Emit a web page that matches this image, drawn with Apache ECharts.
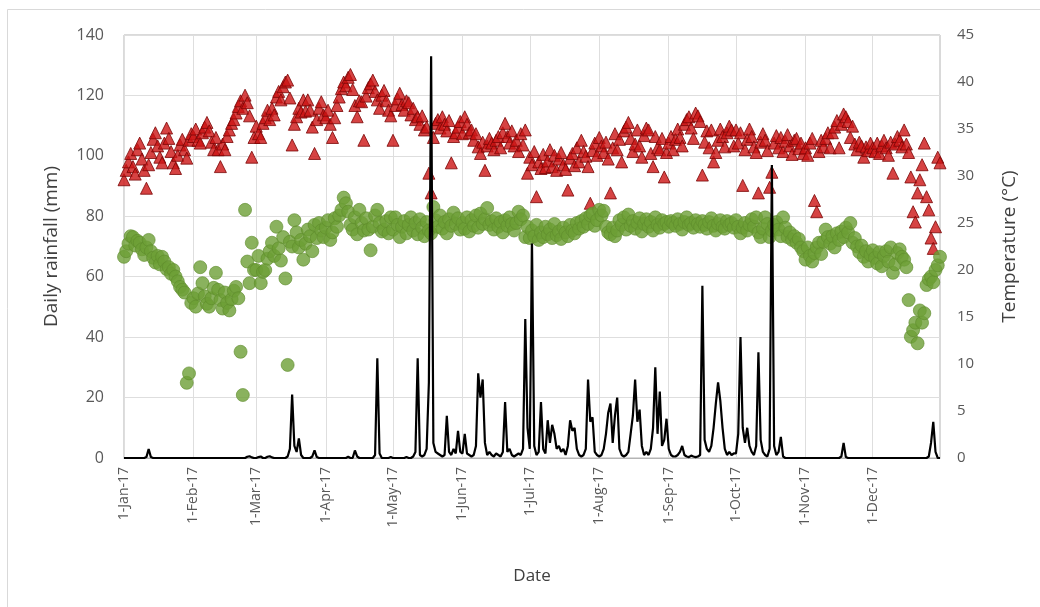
<!DOCTYPE html>
<html>
<head>
<meta charset="utf-8">
<script src="https://cdn.jsdelivr.net/npm/echarts@6/dist/echarts.min.js"></script>
<style>
html,body{margin:0;padding:0;background:#fff;}
#chart{width:1040px;height:607px;}
</style>
</head>
<body>
<div id="chart"></div>
<script>
// ---- Data ----
const monthNames = ['Jan','Feb','Mar','Apr','May','Jun','Jul','Aug','Sep','Oct','Nov','Dec'];
const leftTicks = [0,20,40,60,80,100,120,140];
const rightTicks = [0,5,10,15,20,25,30,35,40,45];

// Daily rainfall (mm), one array per month
const rainJan = [0,0,0,0,0,0,0,0,0,0,0.3,3,0.3,0,0,0,0,0,0,0,0,0,0,0,0,0,0,0,0,0,0];
const rainFeb = [0,0,0,0,0,0,0,0,0,0,0,0,0,0,0,0,0,0,0,0,0,0,0,0,0.4,0.6,0.2,0];
const rainMar = [0,0.3,0.5,0,0,0.4,0.6,0.2,0,0,0,0,0,0,0.5,3,21,4,2,6.5,1,0,0,0,0,0.5,2.5,0.3,0,0,0];
const rainApr = [0,0,0,0,0,0,0,0,0,0,0.4,0,0,2.5,0.5,0,0,0,0,0,0,0,1,33,1.5,0,0,0,0,0.3];
const rainMay = [0,0,0,0,0,0,0.3,0,0,0.5,2,33,1,0.5,1,3,25,133,5,2,1.5,1,0.5,1,14,2,1,3,1.5,9,2];
const rainJun = [1.5,8,1.5,1,0.5,1,4,28,20,26,5,1,2,1,0.5,1.5,1,0.5,2,18.5,2,3,1,0.5,1,1.5,1,3,46,10];
const rainJul = [3,71,4,1,2,18.5,3,1.5,12.5,5,11,8,3,4,2,3,1,4,12.5,9,10,3,1,0.5,1,3,26,12,13.5,2,1];
const rainAug = [0.5,1,3,8,15,18,5,14,20,3,1,0.5,1,2,8,14,26,12,16,4,1,2,1,3,10,30,8,22,4,6,13];
const rainSep = [3,1,0.5,0.5,1,2,4,1,0.5,0.3,0.8,0.5,0.3,0.5,1,57,6,3,2,4,10,18,25,19,10,3,1,2,1,1.5];
const rainOct = [1.5,8,40,10,5,10,4,2,1,4,35,6,2,1,0.5,3,97,4,1,2,7,0.5,0,0,0,0,0,0,0,0,0];
const rainNov = [0,0,0,0,0,0,0,0,0,0,0,0,0,0,0,0,0.5,5,0.3,0,0,0,0,0,0,0,0,0,0,0];
const rainDec = [0,0,0,0,0,0,0,0,0,0,0,0,0,0,0,0,0,0,0,0,0,0,0,0,0,0.5,5,12,2,0,0];

// Daily maximum temperature (°C)
const tmaxJan = [29.6,30.6,31.5,32.4,31.0,30.2,32.8,33.5,31.8,30.6,28.7,31.2,32.5,33.9,34.6,33.2,32.0,31.4,33.5,35.1,34.0,32.6,31.4,30.8,32.2,33.3,33.9,32.8,31.9,33.8,34.5];
const tmaxFeb = [34.2,35.0,33.8,33.5,34.6,35.2,35.7,34.8,33.6,32.8,34.1,32.8,31.0,33.4,32.8,34.2,34.9,35.6,36.0,36.7,37.4,38.0,37.2,38.6,37.8,36.4,32.0,34.1];
const tmaxMar = [35.3,34.5,34.1,35.6,36.2,37.0,36.0,37.2,36.5,38.4,39.0,38.1,39.5,40.0,40.2,38.3,33.3,35.5,36.3,37.2,36.8,38.1,36.9,38.1,37.0,35.2,32.4,36.0,37.2,37.9,36.5];
const tmaxApr = [36.2,37.0,35.5,34.1,36.2,37.5,38.4,39.3,40.0,39.6,40.5,40.8,39.2,37.5,36.3,38.0,37.9,33.8,38.5,39.4,39.8,40.2,39.0,38.1,37.2,38.6,39.1,38.0,37.0,36.4];
const tmaxMay = [33.8,37.5,38.2,38.8,37.6,37.0,38.0,37.8,36.5,37.2,36.0,36.3,35.5,36.4,34.9,35.2,30.3,28.2,34.1,35.6,36.0,35.1,36.3,35.5,34.8,35.9,31.4,34.2,34.6,35.2,35.8];
const tmaxJun = [34.5,36.3,35.5,34.6,34.9,33.8,34.5,33.1,32.4,33.6,30.6,33.2,34.0,33.5,32.8,33.8,34.2,33.0,34.6,35.6,34.2,33.5,34.8,33.2,33.8,32.6,34.5,33.3,34.9,30.3];
const tmaxJul = [32.0,31.2,32.6,27.8,31.5,30.8,32.3,30.9,31.6,32.8,31.0,32.2,30.6,31.8,32.5,31.2,30.7,28.5,31.9,32.4,31.1,33.0,31.5,33.8,32.6,32.1,31.0,27.1,32.7,33.5,32.2];
const tmaxAug = [34.1,33.2,32.5,33.6,31.8,28.2,33.0,34.5,32.8,33.9,31.5,34.8,35.2,35.7,34.0,32.6,33.4,34.9,33.2,32.0,34.3,35.1,34.9,32.4,31.0,34.2,33.0,32.8,34.0,29.9,32.5];
const tmaxSep = [33.5,34.2,32.8,33.9,35.0,34.1,33.2,35.5,36.0,36.3,35.1,34.0,36.7,36.4,35.8,30.1,33.6,34.8,33.0,34.9,31.5,32.5,33.8,35.0,34.2,33.1,34.6,35.3,34.9,33.2];
const tmaxOct = [34.9,33.5,34.6,29.0,32.8,33.9,35.0,34.2,33.1,32.5,28.2,33.6,34.5,33.8,32.7,28.8,30.4,33.5,34.3,33.0,34.1,32.6,33.7,34.4,33.2,32.3,33.8,34.0,32.9,33.5,32.4];
const tmaxNov = [33.0,32.2,33.5,34.0,27.4,26.2,32.6,33.8,33.1,34.0,34.6,33.0,34.6,35.2,35.9,33.0,35.5,36.6,36.3,35.8,34.1,35.3,33.4,32.8,33.6,33.2,32.0,33.1,32.7,33.5];
const tmaxDec = [33.0,32.6,33.5,32.4,33.2,33.8,33.0,32.2,33.6,30.3,33.4,34.2,33.8,33.1,34.9,33.4,32.5,29.9,26.2,25.1,28.2,29.6,31.2,33.5,27.8,26.4,23.4,22.3,24.6,32.0,31.4];

// Daily minimum temperature (°C)
const tminJan = [21.4,22.0,22.8,23.6,23.5,22.6,23.1,22.9,22.2,21.6,22.4,23.2,22.0,21.3,20.8,21.5,20.6,21.4,20.9,20.1,20.3,19.6,20.0,19.3,18.8,18.2,17.9,17.6,8.0,9.0,16.5];
const tminFeb = [17.0,16.1,17.5,20.3,18.6,17.2,16.4,16.1,17.0,18.1,19.7,17.9,16.8,15.9,17.6,16.5,15.7,16.9,17.8,18.2,17.0,11.3,6.7,26.4,20.9,18.6,22.9,20.0];
const tminMar = [20.0,21.5,18.6,19.8,20.0,21.2,22.0,22.9,21.5,24.6,22.3,21.0,23.5,19.1,9.9,23.0,22.5,25.3,24.0,22.4,23.2,21.1,22.8,24.3,23.6,22.0,24.8,23.4,25.0,24.2,23.5];
const tminApr = [24.5,25.3,23.2,24.0,25.5,24.6,25.8,26.4,27.7,27.1,26.2,24.8,24.3,25.6,23.8,26.4,25.0,24.2,25.5,24.3,22.1,24.6,25.8,26.4,25.0,24.1,24.3,25.2,23.9,25.6];
const tminMay = [24.3,25.6,24.8,23.5,24.6,25.2,23.9,24.8,25.6,24.2,25.0,23.8,25.4,24.5,23.6,25.1,24.2,23.9,26.7,25.3,24.6,25.8,24.4,25.1,23.9,25.4,24.7,26.1,24.9,25.5,24.3];
const tminJun = [25.0,24.4,25.6,24.1,25.3,24.7,25.8,24.5,26.0,24.9,25.4,26.6,24.8,25.2,24.3,25.5,24.6,25.1,24.0,25.3,24.7,25.6,24.9,24.2,25.0,26.2,25.4,25.8,23.5,24.6];
const tminJul = [23.4,24.2,23.6,24.8,23.2,24.0,23.5,24.6,23.8,24.3,23.4,24.9,23.7,24.1,23.3,24.5,24.0,23.6,24.8,24.2,23.9,25.0,24.4,25.2,24.6,25.5,24.9,25.8,26.0,24.7,25.3];
const tminAug = [26.4,25.8,26.3,24.6,24.0,23.8,24.5,23.6,24.2,25.3,24.8,25.6,24.3,25.9,24.7,25.2,24.4,25.0,25.5,24.1,24.9,25.4,24.6,25.1,24.2,25.6,24.8,24.5,25.3,24.9,25.1];
const tminSep = [24.6,25.2,25.0,24.7,25.4,24.9,24.3,25.1,25.6,24.8,25.0,24.5,25.3,24.9,24.6,25.2,24.8,24.4,25.1,25.5,24.7,24.2,24.9,25.3,24.6,24.4,25.2,24.8,25.0,24.5];
const tminOct = [25.3,24.6,23.9,24.5,25.0,24.2,24.8,25.4,24.6,25.6,24.0,23.5,24.4,25.6,24.9,23.5,24.2,24.8,25.1,24.3,23.6,25.6,24.5,23.5,24.0,23.2,23.6,22.9,23.3,22.4,22.0];
const tminNov = [21.1,22.4,21.5,20.9,21.8,22.4,22.9,21.7,23.0,24.3,23.5,22.8,23.6,22.4,23.9,23.2,24.1,23.5,24.5,24.0,25.0,22.9,23.4,22.5,21.9,22.6,21.4,22.0,20.9,21.6];
const tminDec = [22.1,21.3,20.7,21.9,20.4,21.5,22.0,20.9,22.4,19.7,20.6,21.8,22.2,21.4,21.1,20.3,16.8,12.9,13.6,14.4,12.2,15.7,14.4,15.4,18.4,19.0,19.3,18.7,20.0,20.5,21.4];

// ---- Build series ----
const rainMonths = [rainJan,rainFeb,rainMar,rainApr,rainMay,rainJun,rainJul,rainAug,rainSep,rainOct,rainNov,rainDec];
const tmaxMonths = [tmaxJan,tmaxFeb,tmaxMar,tmaxApr,tmaxMay,tmaxJun,tmaxJul,tmaxAug,tmaxSep,tmaxOct,tmaxNov,tmaxDec];
const tminMonths = [tminJan,tminFeb,tminMar,tminApr,tminMay,tminJun,tminJul,tminAug,tminSep,tminOct,tminNov,tminDec];

const dates = [], monthStart = [], rain = [], tmax = [], tmin = [];
rainMonths.forEach((arr, m) => {
  arr.forEach((v, d) => {
    dates.push((d + 1) + '-' + monthNames[m] + '-17');
    monthStart.push(d === 0);
    rain.push(v);
    tmax.push(tmaxMonths[m][d]);
    tmin.push(tminMonths[m][d]);
  });
});
const isStart = (i) => monthStart[i];

const FONT = 'Open Sans';
const chart = echarts.init(document.getElementById('chart'), null, {renderer: 'canvas'});
chart.setOption({
  animation: false,
  backgroundColor: '#ffffff',
  textStyle: {fontFamily: FONT},
  graphic: [
    {type: 'line', shape: {x1: 7.5, y1: 9.5, x2: 1040, y2: 9.5}, style: {stroke: '#d9d9d9', lineWidth: 1}},
    {type: 'line', shape: {x1: 7.5, y1: 9.5, x2: 7.5, y2: 607}, style: {stroke: '#d9d9d9', lineWidth: 1}}
  ],
  grid: {left: 124, right: 100, top: 35, bottom: 149, show: true, borderColor: '#b4b4b4', borderWidth: 1, containLabel: false},
  xAxis: {
    type: 'category',
    data: dates,
    boundaryGap: false,
    axisLine: {show: true, lineStyle: {color: '#b4b4b4'}},
    axisTick: {show: false},
    axisLabel: {interval: (i) => isStart(i), rotate: 90, color: '#595959', fontSize: 14, margin: 9, fontFamily: FONT},
    splitLine: {show: true, interval: (i) => isStart(i), lineStyle: {color: '#dedede', width: 1}},
    name: 'Date', nameLocation: 'middle', nameGap: 110,
    nameTextStyle: {color: '#404040', fontSize: 17, fontFamily: FONT}
  },
  yAxis: [
    {
      type: 'value', min: leftTicks[0], max: leftTicks[leftTicks.length - 1], interval: 20,
      position: 'left',
      axisLine: {show: false}, axisTick: {show: false},
      axisLabel: {color: '#595959', fontSize: 16, margin: 20, fontFamily: FONT},
      splitLine: {show: true, lineStyle: {color: '#dedede', width: 1}},
      name: 'Daily rainfall (mm)', nameLocation: 'middle', nameRotate: 90, nameGap: 63,
      nameTextStyle: {color: '#404040', fontSize: 19, fontFamily: FONT}
    },
    {
      type: 'value', min: rightTicks[0], max: rightTicks[rightTicks.length - 1], interval: 5,
      position: 'right',
      axisLine: {show: false}, axisTick: {show: false},
      axisLabel: {color: '#595959', fontSize: 15, margin: 17, fontFamily: FONT},
      splitLine: {show: false},
      name: 'Temperature (°C)', nameLocation: 'middle', nameRotate: 90, nameGap: 60,
      nameTextStyle: {color: '#404040', fontSize: 19, fontFamily: FONT}
    }
  ],
  series: [
    {
      name: 'Tmax', type: 'scatter', yAxisIndex: 1, data: tmax,
      symbol: 'triangle', symbolSize: 12,
      itemStyle: {color: '#cc1414', borderColor: '#7a0505', borderWidth: 1}, z: 2
    },
    {
      name: 'Tmin', type: 'scatter', yAxisIndex: 1, data: tmin,
      symbol: 'circle', symbolSize: 13,
      itemStyle: {color: '#6d9f36', borderColor: '#5e8c2c', borderWidth: 0.8}, z: 3
    },
    {
      name: 'Rainfall', type: 'line', yAxisIndex: 0, data: rain,
      showSymbol: false, symbol: 'none', smooth: false,
      lineStyle: {color: '#000000', width: 2.2}, z: 5
    }
  ]
});
</script>
</body>
</html>
